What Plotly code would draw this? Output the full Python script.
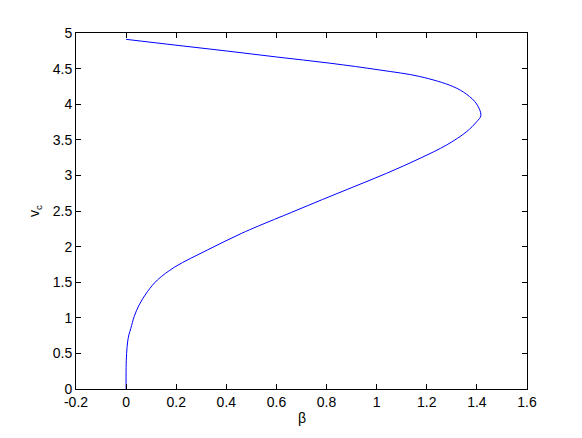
import plotly.graph_objects as go

# Values, in order along the curve
beta = [0.000, 0.000, 0.002, 0.006, 0.011, 0.019, 0.032, 0.052, 0.085, 0.125,
        0.192, 0.258, 0.324, 0.391, 0.460, 0.528, 0.661, 0.784, 0.907, 1.040,
        1.173, 1.279, 1.359, 1.399, 1.416, 1.399, 1.359, 1.304, 1.172, 1.013,
        0.814, 0.601, 0.402, 0.199, 0.000]
v_c = [0.000, 0.300, 0.500, 0.660, 0.760, 0.853, 1.016, 1.180, 1.367, 1.531,
       1.709, 1.836, 1.952, 2.069, 2.185, 2.289, 2.482, 2.662, 2.838, 3.030,
       3.240, 3.427, 3.614, 3.754, 3.841, 4.003, 4.139, 4.249, 4.389, 4.480,
       4.576, 4.663, 4.747, 4.829, 4.911]

x_ticks = [-0.2, 0, 0.2, 0.4, 0.6, 0.8, 1, 1.2, 1.4, 1.6]
x_tick_text = ["-0.2", "0", "0.2", "0.4", "0.6", "0.8", "1", "1.2", "1.4", "1.6"]
y_ticks = [0, 0.5, 1, 1.5, 2, 2.5, 3, 3.5, 4, 4.5, 5]
y_tick_text = ["0", "0.5", "1", "1.5", "2", "2.5", "3", "3.5", "4", "4.5", "5"]

FONT = "Liberation Sans, Arial, Helvetica, sans-serif"

fig = go.Figure()
fig.add_trace(go.Scatter(
    x=beta, y=v_c, mode="lines",
    line=dict(color="#0000ff", width=1, shape="spline", smoothing=1.0),
    showlegend=False, hoverinfo="skip",
))

axis_common = dict(
    showline=True, linecolor="#000000", linewidth=1, mirror="ticks",
    ticks="inside", ticklen=5, tickwidth=1, tickcolor="#000000",
    showgrid=False, zeroline=False, automargin=False,
    tickfont=dict(family=FONT, size=14, color="#000000"),
)

# The page body adds an 8px offset at top/left, so the figure is sized to fit inside the window
fig.update_layout(
    width=574, height=430,
    margin=dict(l=68, r=55, t=25, b=49),
    paper_bgcolor="#ffffff", plot_bgcolor="#ffffff",
    xaxis=dict(range=[-0.2, 1.6], tickvals=x_ticks, ticktext=x_tick_text, **axis_common),
    yaxis=dict(range=[0, 5], tickvals=y_ticks, ticktext=y_tick_text, **axis_common),
    annotations=[
        dict(text="β", xref="paper", yref="paper", x=0.5, y=0, yshift=-29,
             xanchor="center", yanchor="middle", showarrow=False,
             font=dict(family=FONT, size=14, color="#000000")),
        dict(text="v<sub>c</sub>", xref="paper", yref="paper", x=0, y=0.5, xshift=-41,
             xanchor="center", yanchor="middle", showarrow=False, textangle=-90,
             font=dict(family=FONT, size=14, color="#000000")),
    ],
)

fig.write_html("out.html")
